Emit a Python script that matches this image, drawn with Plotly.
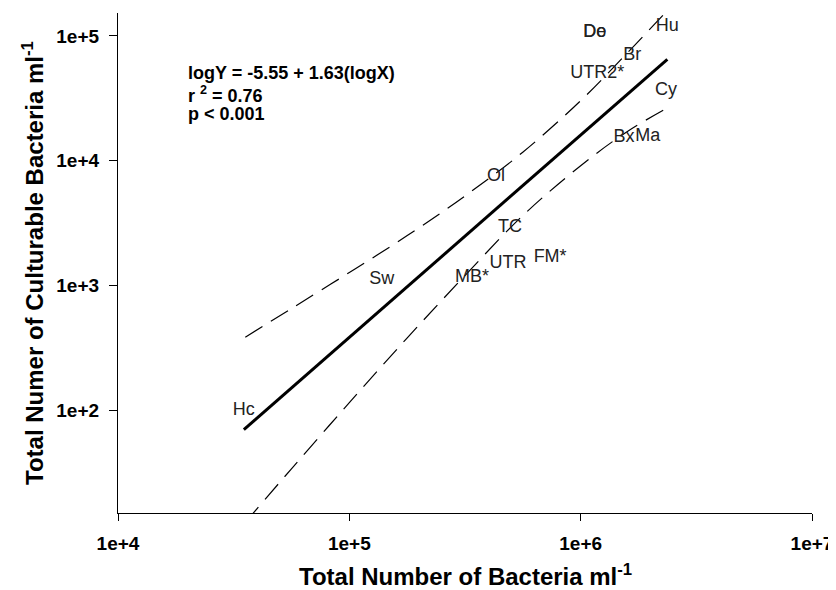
import plotly.graph_objects as go

# Site labels placed at (total bacteria, culturable bacteria)
sites = ["Hc", "Sw", "MB*", "UTR", "FM*", "TC", "Ol", "Bx", "Ma", "Cy",
         "UTR2*", "Br", "Hu", "De", "Do"]
total_bact = [3.5e4, 1.38e5, 3.39e5, 4.85e5, 7.38e5, 4.95e5, 4.31e5, 1.54e6,
              1.95e6, 2.34e6, 1.18e6, 1.67e6, 2.37e6, 1.15e6, 1.15e6]
cult_bact = [100, 1120, 1160, 1500, 1670, 2910, 7450, 1.53e4, 1.56e4, 3.63e4,
             4.97e4, 6.92e4, 1.20e5, 1.06e5, 1.06e5]

# Regression line endpoints (logY = -5.55 + 1.63 logX)
reg_x = [3.5e4, 2.37e6]
reg_y = [70, 6.5e4]

# 95% confidence bands
band_x = [3.55e4, 5.62e4, 1.0e5, 1.78e5, 3.16e5, 5.62e5, 1.0e6, 1.58e6, 2.37e6]
band_upper = [385, 653, 1270, 2510, 5210, 11700, 30300, 72100, 160000]
band_lower = [12.6, 33.9, 115, 380, 1200, 3630, 9120, 17000, 26500]

x_ticks = [1e4, 1e5, 1e6, 1e7]
x_ticktext = ["1e+4", "1e+5", "1e+6", "1e+7"]
y_ticks = [1e2, 1e3, 1e4, 1e5]
y_ticktext = ["1e+2", "1e+3", "1e+4", "1e+5"]

FONT = "Liberation Sans, Arial, sans-serif"

fig = go.Figure()
fig.add_trace(go.Scatter(x=band_x, y=band_upper, mode="lines",
                         line=dict(color="black", width=1.2, dash="20px,10px", shape="spline"),
                         hoverinfo="skip"))
fig.add_trace(go.Scatter(x=band_x, y=band_lower, mode="lines",
                         line=dict(color="black", width=1.2, dash="20px,10px", shape="spline"),
                         hoverinfo="skip"))
fig.add_trace(go.Scatter(x=reg_x, y=reg_y, mode="lines",
                         line=dict(color="black", width=3), hoverinfo="skip"))
fig.add_trace(go.Scatter(x=total_bact, y=cult_bact, mode="text", text=sites,
                         textposition="middle center",
                         textfont=dict(family=FONT, size=18, color="#222"),
                         cliponaxis=False))

PW, PH = 694, 500
ann_x = (186 - 118) / PW
for txt, ypix in [("<b>logY = -5.55 + 1.63(logX)</b>", 73),
                  ("<b>r <sup>2</sup> = 0.76</b>", 94),
                  ("<b>p < 0.001</b>", 114)]:
    fig.add_annotation(xref="paper", yref="paper", x=ann_x, y=(513 - ypix) / PH,
                       xanchor="left", yanchor="middle", showarrow=False, align="left",
                       text=txt, font=dict(family=FONT, size=18, color="black"))

# Axis titles
fig.add_annotation(xref="paper", yref="paper", x=0.5, y=-62 / PH,
                   xanchor="center", yanchor="middle", showarrow=False,
                   text="<b>Total Number of Bacteria ml<sup>-1</sup></b>",
                   font=dict(family=FONT, size=24, color="black"))
fig.add_annotation(xref="paper", yref="paper", x=-85 / PW, y=0.5,
                   xanchor="center", yanchor="middle", showarrow=False, textangle=-90,
                   text="<b>Total Numer of Culturable Bacteria ml<sup>-1</sup></b>",
                   font=dict(family=FONT, size=24, color="black"))

fig.update_xaxes(type="log", range=[4, 7], tickvals=x_ticks, ticktext=x_ticktext,
                 showgrid=False, zeroline=False, showline=True, linecolor="black",
                 linewidth=1.3, ticks="outside", ticklen=7, tickwidth=1.3, tickcolor="black",
                 tickfont=dict(family=FONT, size=19, color="black", weight="bold"),
                 ticklabelstandoff=6, automargin=False)
fig.update_yaxes(type="log", range=[1.176, 5.184], tickvals=y_ticks, ticktext=y_ticktext,
                 showgrid=False, zeroline=False, showline=True, linecolor="black",
                 linewidth=1.3, ticks="outside", ticklen=8, tickwidth=1.3, tickcolor="black",
                 tickfont=dict(family=FONT, size=19, color="black", weight="bold"),
                 ticklabelstandoff=6, automargin=False)

# page has an 8px body margin: plot area lands at 118..812 x 13..513 on screen
fig.update_layout(width=836, height=582, showlegend=False,
                  margin=dict(l=110, r=32, t=5, b=77),
                  plot_bgcolor="white", paper_bgcolor="white")

fig.write_html("out.html")
